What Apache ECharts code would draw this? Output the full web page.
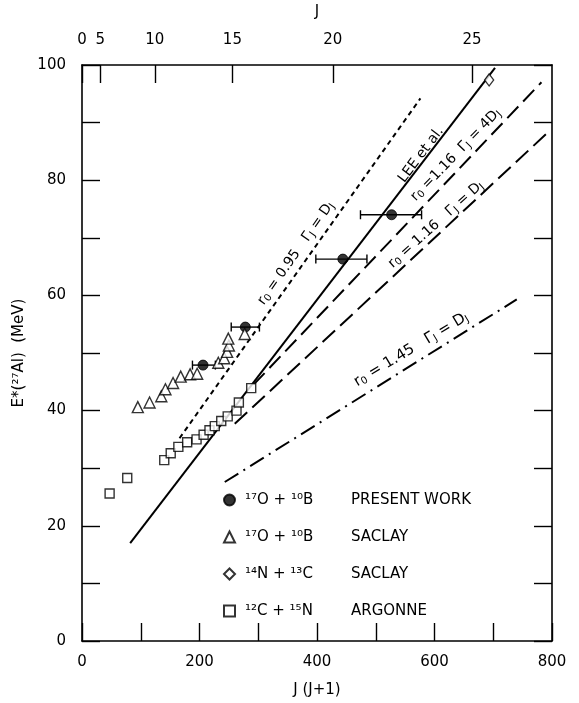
<!DOCTYPE html>
<html><head><meta charset="utf-8">
<script src="https://cdn.jsdelivr.net/npm/echarts@6/dist/echarts.min.js"></script>
<style>html,body{margin:0;padding:0;background:#fff}#c{width:579px;height:703px}</style>
</head><body><div id="c"></div>
<script>
// ---- data ----
const presentJ  = [206, 278, 444, 527];
const presentE  = [47.9, 54.5, 66.3, 74.0];
const presentLo = [188, 254, 398, 474];
const presentHi = [227, 302, 485, 578];

const saclayTriJ = [95, 115, 135, 142, 155, 168, 184, 196, 232, 242, 247, 250, 249, 277];
const saclayTriE = [40.6, 41.4, 42.5, 43.7, 44.8, 45.9, 46.3, 46.4, 48.3, 49.1, 50.2, 51.3, 52.5, 53.3];

const saclayDiaJ = [693];
const saclayDiaE = [97.4];

const argonneJ = [47, 77, 140, 151, 164, 179, 195, 207, 217, 226, 237, 248, 263, 267, 288];
const argonneE = [25.6, 28.3, 31.4, 32.6, 33.7, 34.5, 35.0, 35.8, 36.6, 37.3, 38.2, 39.0, 40.0, 41.4, 43.9];

const leeJ   = [82, 703];   const leeE   = [17.0, 99.5];
const r095J  = [166, 576];  const r095E  = [35.2, 94.2];
const r116aJ = [292, 782];  const r116aE = [44.5, 97.0];
const r116bJ = [260, 793];  const r116bE = [37.7, 88.3];
const r145J  = [243, 740];  const r145E  = [27.6, 59.3];

const topJLabels = ['0', '5', '10', '15', '20', '25'];
const topJPos    = [0, 31, 124, 256, 427, 664];

const legendNames = ['\u00B9\u2077O + \u00B9\u2070B|PRESENT WORK', '\u00B9\u2077O + \u00B9\u2070B|SACLAY',
                     '\u00B9\u2074N + \u00B9\u00B3C|SACLAY', '\u00B9\u00B2C + \u00B9\u2075N|ARGONNE'];

// ---- chart ----
const FF = 'DejaVu Sans';
const zip = (a, b) => a.map((v, i) => [v, b[i]]);
const chart = echarts.init(document.getElementById('c'), null, {renderer: 'canvas'});

const axisLine = {show: true, onZero: false, lineStyle: {color: '#000', width: 1.6}};
const tickStyle = {show: true, inside: true, length: 18, lineStyle: {color: '#000', width: 1.4}};
const lbl = {color: '#000', fontFamily: FF, fontSize: 15};

function lineSeries(j, e, type) {
  return {type: 'line', data: zip(j, e), symbol: 'none', silent: true, z: 2,
          lineStyle: {color: '#000', width: 2, type: type}};
}

const option = {
  animation: false,
  backgroundColor: '#fff',
  grid: {left: 82, right: 27, top: 59, bottom: 60, show: false},
  xAxis: [
    {type: 'value', position: 'bottom', min: 0, max: 800, interval: 100,
     axisLine: axisLine, axisTick: tickStyle, splitLine: {show: false},
     axisLabel: Object.assign({margin: 14, formatter: v => (v % 200 === 0 ? String(v) : '')}, lbl),
     name: 'J (J+1)', nameLocation: 'middle', nameGap: 42,
     nameTextStyle: {color: '#000', fontFamily: FF, fontSize: 15}},
    {type: 'value', position: 'top', min: 0, max: 800,
     axisLine: axisLine, splitLine: {show: false},
     axisTick: Object.assign({customValues: topJPos}, tickStyle),
     axisLabel: Object.assign({customValues: topJPos, margin: 17,
       formatter: v => { const i = topJPos.indexOf(v); return i >= 0 ? topJLabels[i] : ''; }}, lbl),
     name: 'J', nameLocation: 'middle', nameGap: 45,
     nameTextStyle: {color: '#000', fontFamily: FF, fontSize: 15}}
  ],
  yAxis: [
    {type: 'value', position: 'left', min: 0, max: 100, interval: 10,
     axisLine: axisLine, axisTick: tickStyle, splitLine: {show: false},
     axisLabel: Object.assign({margin: 16, formatter: v => (v % 20 === 0 ? String(v) : '')}, lbl),
     name: 'E*(\u00B2\u2077Al)  (MeV)', nameLocation: 'middle', nameGap: 51,
     nameTextStyle: {color: '#000', fontFamily: FF, fontSize: 15}},
    {type: 'value', position: 'right', min: 0, max: 100, interval: 10,
     axisLine: axisLine, axisTick: tickStyle, splitLine: {show: false},
     axisLabel: {show: false}}
  ],
  legend: {
    data: legendNames, orient: 'vertical', left: 218, top: 486,
    itemWidth: 11, itemHeight: 11, itemGap: 19,
    selectedMode: false,
    formatter: n => { const p = n.split('|'); return '{a|' + p[0] + '}{b|' + p[1] + '}'; },
    textStyle: {color: '#000', fontFamily: FF, fontSize: 15, lineHeight: 18,
      rich: {a: {width: 106, fontFamily: FF, fontSize: 15, color: '#000', padding: [0, 0, 0, 5]},
             b: {fontFamily: FF, fontSize: 15, color: '#000'}}}
  },
  series: [
    lineSeries(leeJ, leeE, 'solid'),
    lineSeries(r095J, r095E, [5, 4]),
    lineSeries(r116aJ, r116aE, [16, 7]),
    lineSeries(r116bJ, r116bE, [17, 7]),
    lineSeries(r145J, r145E, [16, 6, 2, 6]),
    {type: 'custom', silent: true, z: 4,
     data: presentJ.map((v, i) => [presentLo[i], presentHi[i], presentE[i]]),
     encode: {x: [0, 1], y: 2},
     renderItem: (params, api) => {
       const y = api.value(2);
       const l = api.coord([api.value(0), y]);
       const r = api.coord([api.value(1), y]);
       const cap = 4.5, st = {stroke: '#000', lineWidth: 1.4};
       return {type: 'group', children: [
         {type: 'line', shape: {x1: l[0], y1: l[1], x2: r[0], y2: r[1]}, style: st},
         {type: 'line', shape: {x1: l[0], y1: l[1] - cap, x2: l[0], y2: l[1] + cap}, style: st},
         {type: 'line', shape: {x1: r[0], y1: r[1] - cap, x2: r[0], y2: r[1] + cap}, style: st}
       ]};
     }},
    {name: legendNames[0], type: 'scatter', data: zip(presentJ, presentE), symbol: 'circle', symbolSize: 10, z: 5,
     itemStyle: {color: '#000', borderColor: '#000', borderWidth: 1}},
    {name: legendNames[1], type: 'scatter', data: zip(saclayTriJ, saclayTriE), symbol: 'triangle', symbolSize: 11, z: 5,
     itemStyle: {color: '#fff', borderColor: '#000', borderWidth: 1.4}},
    {name: legendNames[2], type: 'scatter', data: zip(saclayDiaJ, saclayDiaE), symbol: 'diamond', symbolSize: [9, 12], z: 5,
     itemStyle: {color: '#fff', borderColor: '#000', borderWidth: 1.4}},
    {name: legendNames[3], type: 'scatter', data: zip(argonneJ, argonneE), symbol: 'rect', symbolSize: 9, z: 5,
     itemStyle: {color: '#fff', borderColor: '#000', borderWidth: 1.4}}
  ]
};
chart.setOption(option);

// rotated annotations anchored in data coordinates
const notes = [
  {at: [364, 67.3], ang: 55, size: 14, text: 'r{s|0} = 0.95   \u0393{s|J} = D{s|J}'},
  {at: [577, 84.4], ang: 53, size: 14, text: 'LEE et al.'},
  {at: [636, 84.4], ang: 46, size: 14, text: 'r{s|0} =1.16  \u0393{s|J} = 4D{s|J}'},
  {at: [602, 72.3], ang: 42, size: 14, text: 'r{s|0} = 1.16   \u0393{s|J} = D{s|J}'},
  {at: [560, 50.6], ang: 31, size: 15, text: 'r{s|0} = 1.45   \u0393{s|J} = D{s|J}'}
];
const g = notes.map(n => {
  const p = chart.convertToPixel({gridIndex: 0}, n.at);
  return {type: 'text', x: p[0], y: p[1], rotation: n.ang * Math.PI / 180, z: 10,
    style: {text: n.text, fontFamily: FF, fontSize: n.size, fill: '#000', align: 'center', verticalAlign: 'middle',
      rich: {s: {fontFamily: FF, fontSize: 10, fill: '#000', verticalAlign: 'bottom', padding: [6, 0, 0, 0]}}}};
});
chart.setOption({graphic: g});
</script>
</body></html>
